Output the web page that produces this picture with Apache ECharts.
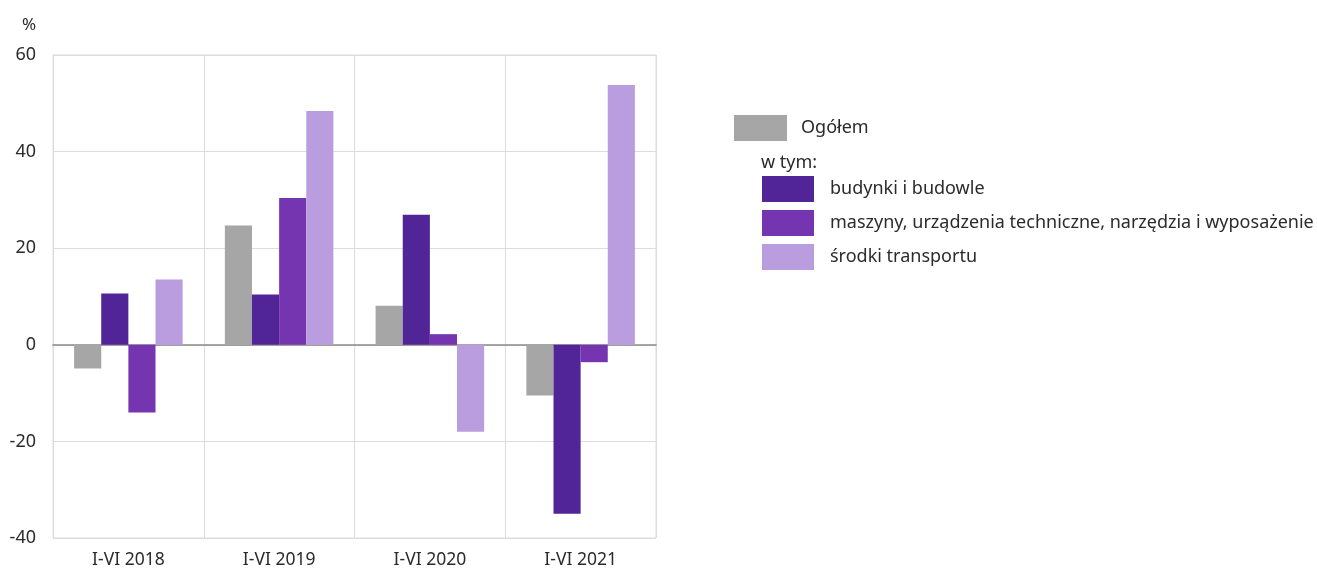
<!DOCTYPE html>
<html>
<head>
<meta charset="utf-8">
<script src="https://cdn.jsdelivr.net/npm/echarts@6/dist/echarts.min.js"></script>
<style>
html,body{margin:0;padding:0;background:#fff;}
#c{width:1317px;height:570px;}
</style>
</head>
<body>
<div id="c"></div>
<script>
var categories = ['I-VI 2018', 'I-VI 2019', 'I-VI 2020', 'I-VI 2021'];
var ogolem = [-4.9, 24.7, 8.1, -10.5];
var budynki = [10.6, 10.4, 26.9, -35.0];
var maszyny = [-14.0, 30.4, 2.2, -3.6];
var srodki = [13.5, 48.4, -18.0, 53.8];
var yTicks = [-40, -20, 0, 20, 40, 60];
var seriesNames = ['Ogółem', 'budynki i budowle', 'maszyny, urządzenia techniczne, narzędzia i wyposażenie', 'środki transportu'];

var FONT = 'Noto Sans';
var TXT = '#2b2b2b';
var colors = ['#a6a6a6', '#512597', '#7535b0', '#b99ddf'];
var dataSets = [ogolem, budynki, maszyny, srodki];

var chart = echarts.init(document.getElementById('c'));
var option = {
  animation: false,
  textStyle: { fontFamily: FONT, color: TXT },
  grid: { left: 53, right: 661, top: 55, bottom: 32, show: true, borderColor: '#dcdcdc', borderWidth: 1 },
  legend: [
    {
      data: [seriesNames[0]],
      left: 734, top: 115, padding: 0,
      itemWidth: 53, itemHeight: 26, itemGap: 8,
      icon: 'rect',
      textStyle: { fontFamily: FONT, fontSize: 18, color: TXT, padding: [0, 0, 0, 9] },
      selectedMode: false
    },
    {
      data: seriesNames.slice(1),
      orient: 'vertical',
      left: 762, top: 176, padding: 0,
      itemWidth: 52, itemHeight: 26, itemGap: 8,
      icon: 'rect',
      textStyle: { fontFamily: FONT, fontSize: 18, color: TXT, padding: [0, 0, 0, 11] },
      selectedMode: false
    }
  ],
  graphic: [
    { type: 'text', x: 761, y: 163, style: { text: 'w tym:', font: '18px "Noto Sans"', fill: TXT, verticalAlign: 'middle' } },
    { type: 'text', x: 22, y: 25, style: { text: '%', font: '17px "Noto Sans"', fill: TXT, verticalAlign: 'middle' } }
  ],
  xAxis: {
    type: 'category',
    data: categories,
    axisLine: { onZero: true, lineStyle: { color: '#8a8a8a', width: 1.5 } },
    axisTick: { show: false },
    axisLabel: { fontFamily: FONT, fontSize: 17.5, color: TXT, margin: 13 },
    splitLine: { show: true, lineStyle: { color: '#dcdcdc' } }
  },
  yAxis: {
    type: 'value',
    min: -40, max: 60, interval: 20,
    axisLine: { show: false },
    axisTick: { show: false },
    axisLabel: {
      fontFamily: FONT, fontSize: 18, color: TXT, margin: 17,
      formatter: function (v) { return yTicks.indexOf(v) >= 0 ? String(v) : ''; }
    },
    splitLine: { show: true, lineStyle: { color: '#dcdcdc' } }
  },
  series: dataSets.map(function (d, i) {
    return {
      name: seriesNames[i],
      type: 'bar',
      data: d,
      barGap: '0%',
      barCategoryGap: '28%',
      itemStyle: { color: colors[i] }
    };
  })
};
chart.setOption(option);
</script>
</body>
</html>
